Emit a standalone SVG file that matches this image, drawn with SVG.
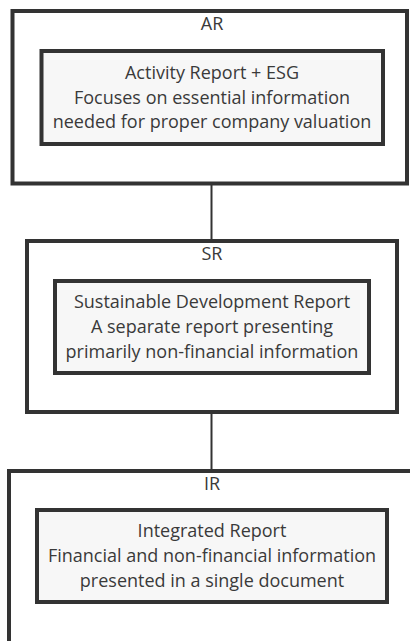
<svg xmlns="http://www.w3.org/2000/svg" width="410" height="641" viewBox="0 0 410 641">
<style>
.outer{fill:#ffffff;stroke:#333333;stroke-width:4}
.inner{fill:#f7f7f7;stroke:#333333;stroke-width:4}
.conn{stroke:#333333;stroke-width:2;fill:none}
text{font-family:"Open Sans","Noto Sans",sans-serif;font-size:18px;fill:#3a3a3a;text-anchor:middle}
</style>
<rect width="410" height="641" fill="#ffffff"/>
<g id="connectors">
<line class="conn" x1="211.5" y1="185" x2="211.5" y2="240"/>
<line class="conn" x1="211.5" y1="413" x2="211.5" y2="470"/>
</g>
<g id="AR">
<rect class="outer" x="12.5" y="11" width="394.5" height="172.5"/>
<text x="212" y="30">AR</text>
</g>
<g id="AR-inner">
<rect class="inner" x="41.5" y="51" width="341.5" height="93"/>
<text x="212" y="79">Activity Report + ESG</text>
<text x="212" y="103.5">Focuses on essential information</text>
<text x="212" y="128">needed for proper company valuation</text>
</g>
<g id="SR">
<rect class="outer" x="27" y="241" width="370" height="171"/>
<text x="212" y="260">SR</text>
</g>
<g id="SR-inner">
<rect class="inner" x="55" y="281" width="314" height="92"/>
<text x="212" y="308">Sustainable Development Report</text>
<text x="212" y="333">A separate report presenting</text>
<text x="212" y="357.5">primarily non-financial information</text>
</g>
<g id="IR">
<rect class="outer" x="9" y="471" width="420" height="172"/>
<text x="212" y="490">IR</text>
</g>
<g id="IR-inner">
<rect class="inner" x="37" y="510" width="350" height="92"/>
<text x="212" y="537">Integrated Report</text>
<text x="212" y="562">Financial and non-financial information</text>
<text x="212" y="586.5">presented in a single document</text>
</g>
</svg>
